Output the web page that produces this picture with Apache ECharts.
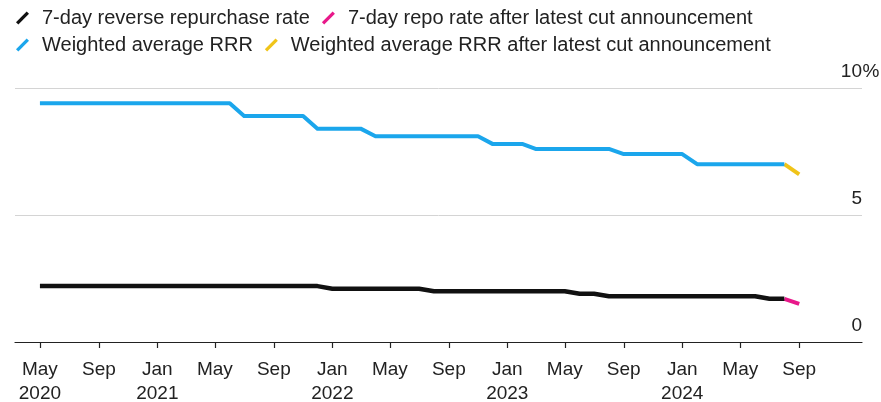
<!DOCTYPE html>
<html>
<head>
<meta charset="utf-8">
<script src="https://cdn.jsdelivr.net/npm/echarts@6/dist/echarts.min.js"></script>
<style>
	html, body { margin: 0; padding: 0; background: #fff; }
	#chart { width: 881px; height: 402px; }
</style>
</head>
<body>
<div id="chart"></div>
<script>
//Monthly readings, May 2020 - Aug 2024
let months = [
	'2020-05', '2020-06', '2020-07', '2020-08', '2020-09', '2020-10', '2020-11', '2020-12',
	'2021-01', '2021-02', '2021-03', '2021-04', '2021-05', '2021-06', '2021-07', '2021-08', '2021-09', '2021-10', '2021-11', '2021-12',
	'2022-01', '2022-02', '2022-03', '2022-04', '2022-05', '2022-06', '2022-07', '2022-08', '2022-09', '2022-10', '2022-11', '2022-12',
	'2023-01', '2023-02', '2023-03', '2023-04', '2023-05', '2023-06', '2023-07', '2023-08', '2023-09', '2023-10', '2023-11', '2023-12',
	'2024-01', '2024-02', '2024-03', '2024-04', '2024-05', '2024-06', '2024-07', '2024-08'
];

let repoRate = [
	2.2, 2.2, 2.2, 2.2, 2.2, 2.2, 2.2, 2.2,
	2.2, 2.2, 2.2, 2.2, 2.2, 2.2, 2.2, 2.2, 2.2, 2.2, 2.2, 2.2,
	2.1, 2.1, 2.1, 2.1, 2.1, 2.1, 2.1, 2.0, 2.0, 2.0, 2.0, 2.0,
	2.0, 2.0, 2.0, 2.0, 2.0, 1.9, 1.9, 1.8, 1.8, 1.8, 1.8, 1.8,
	1.8, 1.8, 1.8, 1.8, 1.8, 1.8, 1.7, 1.7
];

let rrr = [
	9.4, 9.4, 9.4, 9.4, 9.4, 9.4, 9.4, 9.4,
	9.4, 9.4, 9.4, 9.4, 9.4, 9.4, 8.9, 8.9, 8.9, 8.9, 8.9, 8.4,
	8.4, 8.4, 8.4, 8.1, 8.1, 8.1, 8.1, 8.1, 8.1, 8.1, 8.1, 7.8,
	7.8, 7.8, 7.6, 7.6, 7.6, 7.6, 7.6, 7.6, 7.4, 7.4, 7.4, 7.4,
	7.4, 7.0, 7.0, 7.0, 7.0, 7.0, 7.0, 7.0
];

//After latest cut announcement
let cutMonths = ['2024-08', '2024-09'];
let repoAfterCut = [1.7, 1.5];
let rrrAfterCut = [7.0, 6.6];

//Axis labels
let tickMonths = [
	'2020-05', '2020-09', '2021-01', '2021-05', '2021-09', '2022-01', '2022-05', '2022-09',
	'2023-01', '2023-05', '2023-09', '2024-01', '2024-05', '2024-09'
];
let monthNames = ['Jan', 'Feb', 'Mar', 'Apr', 'May', 'Jun', 'Jul', 'Aug', 'Sep', 'Oct', 'Nov', 'Dec'];

let names = [
	'7-day reverse repurchase rate',
	'7-day repo rate after latest cut announcement',
	'Weighted average RRR',
	'Weighted average RRR after latest cut announcement'
];
let colors = ['#111111', '#e8188a', '#1ba6ec', '#f0c419'];

function toTime(m) {
	let p = m.split('-');
	return new Date(+p[0], +p[1] - 1, 1).getTime();
}

function pairs(xs, ys) {
	let out = [];
	for (let i = 0; i < xs.length; i++) {
		out.push([toTime(xs[i]), ys[i]]);
	}
	return out;
}

let tickValues = tickMonths.map(toTime);
let fontFamily = '"Liberation Sans", Arial, sans-serif';
let slash = 'path://M0,11.5 L2.5,14 L14,2.5 L11.5,0 Z';

function lineSeries(name, data, color, width, z) {
	return {
		name: name,
		type: 'line',
		data: data,
		symbol: 'none',
		z: z,
		lineStyle: { color: color, width: width, cap: 'butt', join: 'round' },
		itemStyle: { color: color }
	};
}

let chart = echarts.init(document.getElementById('chart'));
chart.setOption({
	animation: false,
	textStyle: { fontFamily: fontFamily },
	legend: {
		left: 11,
		top: 3,
		width: 830,
		itemWidth: 13,
		itemHeight: 14,
		itemGap: 7,
		selectedMode: false,
		data: [
			{ name: names[0], icon: slash },
			{ name: names[1], icon: slash },
			{ name: names[2], icon: slash },
			{ name: names[3], icon: slash }
		],
		textStyle: { fontSize: 20, color: '#222', lineHeight: 19, padding: [0, 5, 0, 8], fontFamily: fontFamily }
	},
	grid: { left: 15, right: 19, top: 88, bottom: 60, outerBoundsMode: 'none', containLabel: false },
	xAxis: {
		type: 'value',
		min: new Date(2020, 2, 10).getTime(),
		max: new Date(2025, 0, 10).getTime(),
		axisLine: { lineStyle: { color: '#222', width: 1.2 } },
		axisTick: { show: true, customValues: tickValues, length: 6, lineStyle: { color: '#222', width: 1.2 } },
		splitLine: { show: false },
		axisLabel: {
			customValues: tickValues,
			margin: 16,
			fontSize: 19,
			lineHeight: 24,
			color: '#222',
			fontFamily: fontFamily,
			formatter: function (v) {
				let d = new Date(v);
				let s = monthNames[d.getMonth()];
				if (d.getMonth() === 0 || v === tickValues[0]) {
					s += '\n' + d.getFullYear();
				}
				return s;
			}
		}
	},
	yAxis: {
		type: 'value',
		position: 'right',
		min: 0,
		max: 10,
		interval: 5,
		axisLine: { show: false },
		axisTick: { show: false },
		splitLine: { lineStyle: { color: '#d4d4d4', width: 1 } },
		axisLabel: {
			inside: true,
			margin: -18,
			verticalAlign: 'bottom',
			padding: [0, 0, 7, 0],
			fontSize: 19,
			color: '#222',
			fontFamily: fontFamily,
			formatter: function (v) {
				return v === 10 ? '{n|10}{p|%}' : '{n|' + v + '}{p| }';
			},
			rich: {
				n: { fontSize: 19, color: '#222', fontFamily: fontFamily },
				p: { fontSize: 19, color: '#222', width: 18, align: 'left', fontFamily: fontFamily }
			}
		}
	},
	series: [
		lineSeries(names[0], pairs(months, repoRate), colors[0], 4.5, 3),
		lineSeries(names[1], pairs(cutMonths, repoAfterCut), colors[1], 4, 2),
		lineSeries(names[2], pairs(months, rrr), colors[2], 4, 3),
		lineSeries(names[3], pairs(cutMonths, rrrAfterCut), colors[3], 4, 2)
	]
});
</script>
</body>
</html>
